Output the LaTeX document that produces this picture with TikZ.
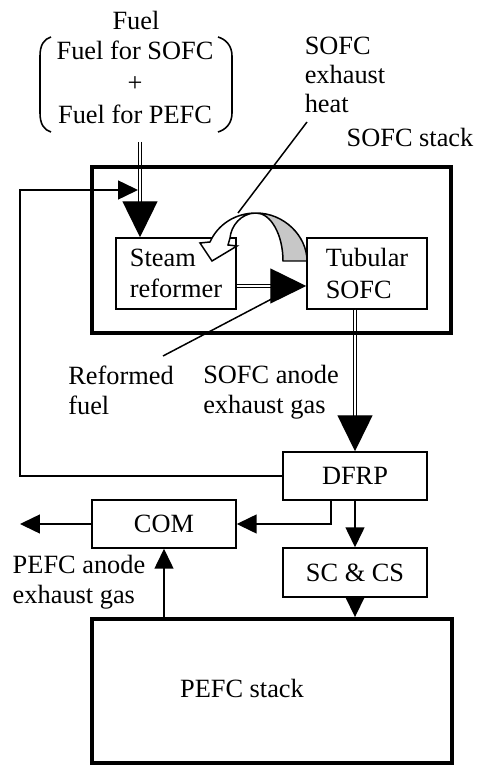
\documentclass[tikz,border=0pt]{standalone}
\usepackage{fontspec}
\setmainfont{Liberation Serif}
\usetikzlibrary{arrows.meta,calc}
\tikzset{
	box/.style={draw, line width=0.85pt, inner sep=0pt, font=\fontsize{15}{18}\selectfont, align=left},
	stackbox/.style={draw, line width=2.2pt, inner sep=0pt},
	lbl/.style={font=\fontsize{15}{17}\selectfont, align=left, inner sep=0pt},
	flow/.style={line width=0.85pt, -{Triangle[length=0.4cm, width=0.38cm]}},
	gasflow/.style={double, double distance=1.2pt, line width=0.8pt, -{Triangle[length=0.72cm, width=0.7cm]}},
	pointer/.style={line width=0.85pt},
}

\begin{document}
\begin{tikzpicture}[x=0.02cm, y=-0.02cm]
			%%%%% START %%%%%
			\useasboundingbox (0,0) rectangle (477,766);
			
			% fuel supply
			\node[lbl] (fuel) at (136,20) {Fuel};
			\node[lbl, align=center, font=\fontsize{15}{18.4}\selectfont] (fuelmix) at (135,82.5) {Fuel for SOFC\\+\\Fuel for PEFC};
			\draw[line width=0.9pt] (51,37) .. controls (44,39) and (40,45) .. (40,56) -- (40,113) .. controls (40,124) and (44,130) .. (51,132);
			\draw[line width=0.9pt] (218,37) .. controls (225,39) and (232,45) .. (232,56) -- (232,113) .. controls (232,124) and (225,130) .. (218,132);
			
			% SOFC stack
			\node[stackbox, minimum width=7.18cm, minimum height=3.32cm] (sofcstack) at (271.5,250) {};
			\node[lbl] (stacklbl) at (410,137) {SOFC stack};
			\node[box, minimum width=2.4cm, minimum height=1.42cm] (reformer) at (176,273.5) {Steam\\reformer};
			\node[box, minimum width=2.4cm, minimum height=1.42cm] (sofc) at (367,273.5) {Tubular\\SOFC};
			
			% PEFC side
			\node[box, minimum width=2.88cm, minimum height=0.96cm, align=center] (dfrp) at (355,476) {DFRP};
			\node[box, minimum width=2.88cm, minimum height=0.96cm, align=center] (com) at (164,524) {COM};
			\node[box, minimum width=2.88cm, minimum height=0.98cm, align=center] (sccs) at (355,572.5) {SC \& CS};
			\node[stackbox, minimum width=7.2cm, minimum height=2.88cm] (pefc) at (272,691) {};
			\node[lbl] (pefclbl) at (242,688) {PEFC stack};
			
			% labels
			\node[lbl, font=\fontsize{15}{16.5}\selectfont] (heatlbl) at (345,74.5) {SOFC\\exhaust\\heat};
			\node[lbl] (reflbl) at (121,390) {Reformed\\fuel};
			\node[lbl] (anodelbl) at (271,392.5) {SOFC anode\\exhaust gas};
			\node[lbl] (pefcanodelbl) at (79,582) {PEFC anode\\exhaust gas};
			
			\coordinate (fuelin) at (140,142);
			\coordinate (recyc) at (20,190);
			\coordinate (mixpt) at (138,190);
			\coordinate (exhout) at (20,524);
			\coordinate (heatfrom) at (307,122);
			\coordinate (heatto) at (238,213);
			\coordinate (reffrom) at (163,356);
			\coordinate (refto) at (283,293);
			
			% gas lines
			\draw[gasflow] (fuelin) -- (fuelin |- reformer.north);
			\draw[gasflow] ([yshift=-0.25cm]reformer.east) -- ([yshift=-0.25cm]sofc.west);
			\draw[gasflow] (dfrp.north |- sofc.south) -- (dfrp.north);
			\node[stackbox, minimum width=7.18cm, minimum height=3.32cm] at (sofcstack) {};
			
			\draw[flow] (dfrp.west) -| (recyc) -- (mixpt);
			\draw[flow] (dfrp.south) -- (sccs.north);
			\draw[flow] (sccs.south) -- (pefc.north -| sccs.south);
			\draw[flow] ([xshift=-0.48cm]dfrp.south) |- (com.east);
			\draw[flow] (pefc.north -| com.south) -- (com.south);
			\draw[flow] (com.west) -- (exhout);
			
			% exhaust heat arrow
			\draw[line width=0.85pt, fill=black!22] (307,261) .. controls (307,236) and (284,213) .. (256,213) .. controls (271,213) and (283,235) .. (283,261) -- cycle;
			\draw[line width=0.85pt, fill=white] (256,213) .. controls (236,213) and (218,224) .. (210,242) -- (200,243) -- (212,261) -- (237,246) -- (228,245) -- (230,238) .. controls (231,226) and (241,213) .. (256,213) -- cycle;
			
			\draw[pointer] (heatfrom) -- (heatto);
			\draw[pointer] (reffrom) -- (refto);
			%%%%% END %%%%%
\end{tikzpicture}
\end{document}
